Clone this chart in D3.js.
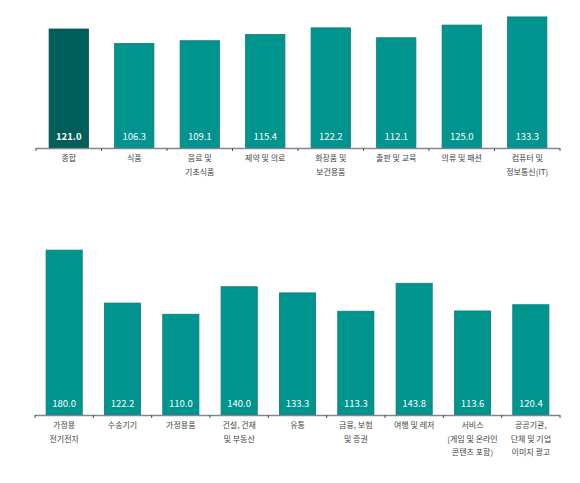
<!DOCTYPE html>
<html>
<head>
<meta charset="utf-8">
<script src="https://cdn.jsdelivr.net/npm/d3@7"></script>
<style>
  body { margin: 0; background: #fff; }
  text { font-family: "Noto Sans CJK KR", "Noto Sans", sans-serif; }
</style>
</head>
<body>
<svg id="chart" width="580" height="483"></svg>
<script>
// top panel
var topCats = ['종합', '식품', '음료 및\n기초식품', '제약 및 의료', '화장품 및\n보건용품', '출판 및 교육', '의류 및 패션', '컴퓨터 및\n정보통신(IT)'];
var topVals = [121.0, 106.3, 109.1, 115.4, 122.2, 112.1, 125.0, 133.3];

// bottom panel
var botCats = ['가정용\n전기전자', '수송기기', '가정용품', '건설, 건재\n및 부동산', '유통', '금융, 보험\n및 증권', '여행 및 레저', '서비스\n(게임 및 온라인\n콘텐츠 포함)', '공공기관,\n단체 및 기업\n이미지 광고'];
var botVals = [180.0, 122.2, 110.0, 140.0, 133.3, 113.3, 143.8, 113.6, 120.4];

var svg = d3.select('#chart');

function panel(cats, vals, opt) {
  var x = d3.scaleBand()
    .domain(cats)
    .range([opt.x0, opt.x1])
    .paddingInner(opt.pad)
    .paddingOuter(opt.pad / 2);
  var y = d3.scaleLinear()
    .domain([0, opt.max])
    .range([opt.base, opt.top]);

  var g = svg.append('g');

  g.selectAll('rect.bar')
    .data(vals)
    .enter()
    .append('rect')
    .attr('class', 'bar')
    .attr('x', function(d, i) { return x(cats[i]); })
    .attr('y', function(d) { return y(d); })
    .attr('width', x.bandwidth())
    .attr('height', function(d) { return y(0) - y(d); })
    .attr('fill', function(d, i) { return (opt.dark && i === 0) ? '#005e5b' : '#00948f'; })
    .attr('stroke', function(d, i) { return (opt.dark && i === 0) ? '#0d4a48' : '#127b78'; })
    .attr('stroke-width', 0.8);

  g.selectAll('text.val')
    .data(vals)
    .enter()
    .append('text')
    .attr('class', 'val')
    .attr('x', function(d, i) { return x(cats[i]) + x.bandwidth() / 2; })
    .attr('y', opt.base - 8)
    .attr('text-anchor', 'middle')
    .attr('fill', '#fff')
    .attr('font-size', 9.5)
    .attr('font-family', 'Arial, "Liberation Sans", sans-serif')
    .attr('font-weight', function(d, i) { return (opt.dark && i === 0) ? 'bold' : 'normal'; })
    .text(function(d) { return d.toFixed(1); });

  // axis line with ticks at band edges
  g.append('line')
    .attr('x1', opt.x0).attr('x2', opt.x1)
    .attr('y1', opt.base + 0.5).attr('y2', opt.base + 0.5)
    .attr('stroke', '#7d8796').attr('stroke-width', 1.3);
  var step = x.step();
  var edges = d3.range(cats.length + 1).map(function(i) { return opt.x0 + i * step; });
  g.selectAll('line.tick')
    .data(edges)
    .enter()
    .append('line')
    .attr('class', 'tick')
    .attr('x1', function(d) { return d; }).attr('x2', function(d) { return d; })
    .attr('y1', opt.base).attr('y2', opt.base + 3)
    .attr('stroke', '#4a5260').attr('stroke-width', 1);

  var labels = g.selectAll('text.cat')
    .data(cats)
    .enter()
    .append('text')
    .attr('class', 'cat')
    .attr('x', function(d) { return x(d) + x.bandwidth() / 2; })
    .attr('y', opt.base + 13)
    .attr('text-anchor', 'middle')
    .attr('fill', '#444')
    .attr('font-size', 8);
  labels.selectAll('tspan')
    .data(function(d) { return d.split('\n'); })
    .enter()
    .append('tspan')
    .attr('x', function() { return d3.select(this.parentNode).attr('x'); })
    .attr('dy', function(d, i) { return i === 0 ? 0 : 13.5; })
    .text(function(d) { return d; });
}

panel(topCats, topVals, { x0: 36, x1: 560, base: 148, top: 0.5, max: 150, pad: 0.4, dark: true });
panel(botCats, botVals, { x0: 35, x1: 560, base: 415, top: 231.8, max: 200, pad: 0.38, dark: false });
</script>
</body>
</html>
